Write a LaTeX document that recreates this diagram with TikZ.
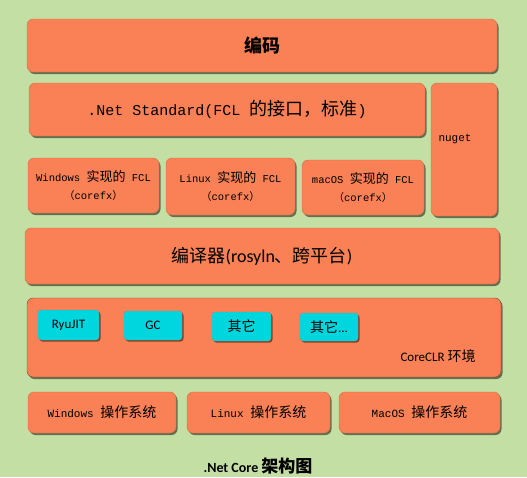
\documentclass[tikz,border=0pt]{standalone}
\usepackage{fontspec}
\setmainfont{Carlito}
\setmonofont{Liberation Mono}
\newfontfamily\cjk{Noto Sans CJK SC}
\usetikzlibrary{shadows}

\newcommand{\cn}[1]{{\cjk #1}}
\newcommand{\fsz}[1]{\fontsize{#1}{#1}\selectfont}
\newcommand{\bigcn}[2]{{\fontsize{#1}{#1}\selectfont\cjk #2}}

\definecolor{bggreen}{RGB}{196,223,163}
\definecolor{boxorange}{RGB}{250,128,85}
\definecolor{boxedge}{RGB}{214,110,70}
\definecolor{jitcyan}{RGB}{0,214,222}
\definecolor{clredge}{RGB}{120,72,40}

\begin{document}
\begin{tikzpicture}[x=1pt,y=-1pt]

\tikzstyle{block}=[rectangle, rounded corners=6pt, fill=boxorange, draw=boxedge, inner sep=0pt, align=center, drop shadow={shadow xshift=1.5pt, shadow yshift=-2pt, fill=black!55!bggreen, opacity=0.9}]
\tikzstyle{part}=[rectangle, rounded corners=3pt, fill=jitcyan, draw=boxedge!60!jitcyan, inner sep=0pt, font=\fsz{13}, drop shadow={shadow xshift=1.5pt, shadow yshift=-1.5pt, fill=black!55!boxorange, opacity=0.9}]
\tikzstyle{fcl}=[block, font=\fontsize{10.5}{18}\selectfont\ttfamily]
\tikzstyle{os}=[block, minimum height=41, font=\fsz{11}\ttfamily]

% background
\fill[bggreen] (0,0) rectangle (527,477);
\useasboundingbox (0,0) rectangle (527,477);

% top layers
\node[block, minimum width=470, minimum height=53, font=\fsz{18}\bfseries] (code) at (262,45.5) {\cn{编码}};
\node[block, minimum width=396, minimum height=53, font=\fsz{15}\ttfamily] (std) at (227,109.5) {.Net Standard(FCL \bigcn{18}{的接口，标准})};
\node[block, minimum width=66, minimum height=133] (nuget) at (464,149.5) {};
\node[font=\fsz{11}\ttfamily] (nugettxt) at (455,139) {nuget};

% FCL implementations
\node[fcl, minimum width=131, minimum height=55] (winfcl) at (93.5,185.5) {Windows \bigcn{13}{实现的} FCL\\\cn{（}corefx\cn{）}};
\node[fcl, minimum width=129, minimum height=57] (linfcl) at (230.5,186.5) {Linux \bigcn{13}{实现的} FCL\\\cn{（}corefx\cn{）}};
\node[fcl, minimum width=122, minimum height=55] (macfcl) at (363,187.5) {macOS \bigcn{13}{实现的} FCL\\\cn{（}corefx\cn{）}};

% compiler
\node[block, minimum width=474, minimum height=56, font=\fsz{18}] (comp) at (262,256) {\cn{编译器}(rosyln\cn{、跨平台})};

% runtime
\node[block, draw=clredge, minimum width=474, minimum height=79] (clr) at (264,337.5) {};
\node[part, minimum width=61, minimum height=30] (ryu) at (68.5,325) {RyuJIT};
\node[part, minimum width=58, minimum height=29] (gc) at (153,325.5) {GC};
\node[part, minimum width=59, minimum height=29] (other) at (241.5,326.5) {\bigcn{14}{其它}};
\node[part, minimum width=58, minimum height=28] (otherx) at (329,327) {\bigcn{14}{其它}...};
\node[font=\fsz{13}] (clrtxt) at (438,356) {CoreCLR \bigcn{14}{环境}};

% operating systems
\node[os, minimum width=148] (winos) at (102,412.5) {Windows \bigcn{14}{操作系统}};
\node[os, minimum width=143] (linos) at (258.5,412.5) {Linux \bigcn{14}{操作系统}};
\node[os, minimum width=161] (macos) at (419.5,412.5) {MacOS \bigcn{14}{操作系统}};

\node[font=\fsz{14}\bfseries] (title) at (258,466) {.Net Core \bigcn{17}{\bfseries 架构图}};

\end{tikzpicture}
\end{document}
